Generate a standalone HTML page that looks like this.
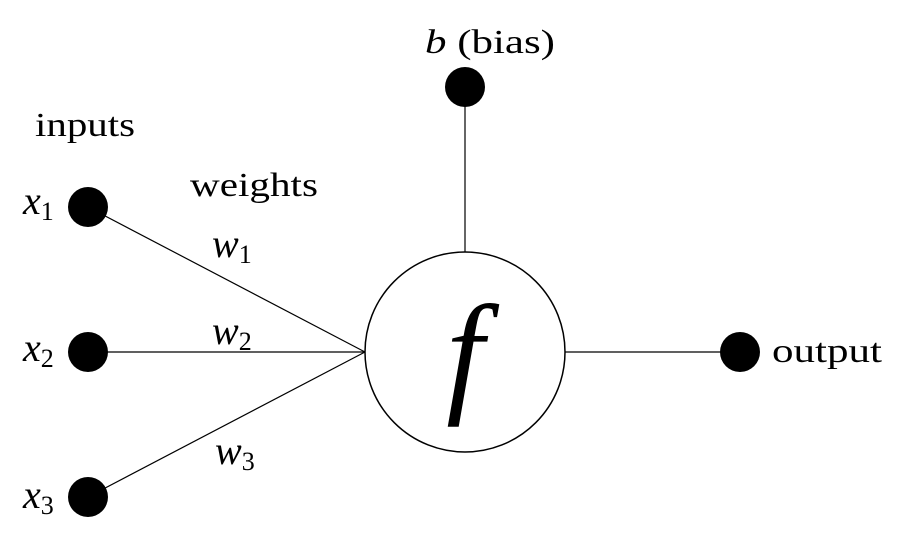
<!DOCTYPE html>
<html><head><meta charset="utf-8"><style>
html,body{margin:0;padding:0;background:#fff;}
svg{display:block}
.m{font-family:"Liberation Serif",serif;font-style:italic;fill:#000}
.s{font-family:"Liberation Serif",serif;fill:#000}
.sub{font-family:"Liberation Serif",serif;font-style:normal}
</style></head><body>
<svg width="904" height="543" viewBox="0 0 904 543">
<g stroke="#000" stroke-width="1.2">
<line x1="88" y1="207" x2="365" y2="352"/>
<line x1="88" y1="352" x2="365" y2="352"/>
<line x1="88" y1="497" x2="365" y2="352"/>
<line x1="465" y1="87" x2="465" y2="252"/>
<line x1="565" y1="352" x2="740" y2="352"/>
</g>
<circle cx="465" cy="352" r="100" fill="#fff" stroke="#000" stroke-width="1.5"/>
<text x="465" y="398" text-anchor="middle" class="m" font-size="135">f</text>
<circle cx="465" cy="87" r="20" fill="#000"/>
<circle cx="88" cy="207" r="20" fill="#000"/>
<circle cx="88" cy="352" r="20" fill="#000"/>
<circle cx="88" cy="497" r="20" fill="#000"/>
<circle cx="740" cy="352" r="20" fill="#000"/>
<text x="425" y="53" class="s" font-size="34" textLength="130" lengthAdjust="spacingAndGlyphs"><tspan class="m">b</tspan> (bias)</text>
<text x="35" y="136" class="s" font-size="34" textLength="100" lengthAdjust="spacingAndGlyphs">inputs</text>
<text x="190" y="196" class="s" font-size="34" textLength="128" lengthAdjust="spacingAndGlyphs">weights</text>
<text x="772" y="362" class="s" font-size="34" textLength="110" lengthAdjust="spacingAndGlyphs">output</text>
<text x="23" y="214" class="m" font-size="40">x<tspan class="sub" font-size="26" dy="6">1</tspan></text>
<text x="23" y="361" class="m" font-size="40">x<tspan class="sub" font-size="26" dy="6">2</tspan></text>
<text x="23" y="508" class="m" font-size="40">x<tspan class="sub" font-size="26" dy="6">3</tspan></text>
<text x="212" y="257" class="m" font-size="40">w<tspan class="sub" font-size="26" dy="6">1</tspan></text>
<text x="212" y="344" class="m" font-size="40">w<tspan class="sub" font-size="26" dy="6">2</tspan></text>
<text x="215" y="464" class="m" font-size="40">w<tspan class="sub" font-size="26" dy="6">3</tspan></text>
</svg>
</body></html>
